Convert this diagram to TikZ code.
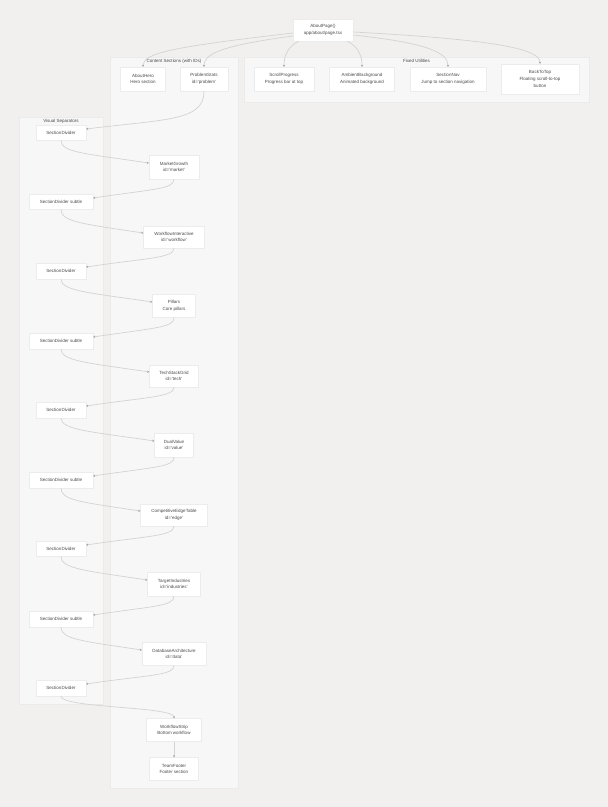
\documentclass[tikz,border=0pt]{standalone}
\usepackage{fontspec}
\setmainfont{Liberation Sans}
\usetikzlibrary{calc,arrows.meta}
\definecolor{bg}{HTML}{F1F0EE}
\definecolor{clfill}{HTML}{F7F7F7}
\definecolor{clline}{HTML}{EBEBEB}
\definecolor{nodeline}{HTML}{ECECEC}
\definecolor{txt}{HTML}{4A4A4A}
\definecolor{edgec}{HTML}{D3D3D3}
\definecolor{arrowc}{HTML}{9A9A9A}
\begin{document}
\begin{tikzpicture}[x=1pt,y=-1pt,
  box/.style 2 args={draw=nodeline, fill=white, line width=0.4pt, minimum width=#1pt, minimum height=#2pt, inner sep=0pt, align=center, text=txt, font=\fontsize{4.5}{6.7}\selectfont},
  cl/.style={draw=clline, fill=clfill, line width=0.5pt},
  cllabel/.style={text=txt, font=\fontsize{4.5}{5.5}\selectfont, inner sep=0pt},
  edge/.style={draw=edgec, line width=0.7pt, -{Stealth[length=2pt,width=2pt,color=arrowc]}}]
\fill[bg] (0,0) rectangle (608,807);
\useasboundingbox (0,0) rectangle (608,807);
% clusters
\draw[cl] (110,57) rectangle (238,788);
\node[cllabel] (lcontent) at (174,61) {Content Sections (with IDs)};
\draw[cl] (244,57) rectangle (589,102);
\node[cllabel] (lfixed) at (416.5,61) {Fixed Utilities};
\draw[cl] (19,117) rectangle (103,704);
\node[cllabel] (lvisual) at (61,121) {Visual Separators};
% nodes
\node[box={60}{22}] (about) at (323,30) {AboutPage()\\app/about/page.tsx};
\node[box={45}{24}] (hero) at (143,79) {AboutHero\\Hero section};
\node[box={48}{24}] (problem) at (204,79) {ProblemStats\\id='problem'};
\node[box={60}{24}] (scroll) at (284,79) {ScrollProgress\\Progress bar at top};
\node[box={65}{24}] (ambient) at (362,79) {AmbientBackground\\Animated background};
\node[box={76}{24}] (nav) at (448,79) {SectionNav\\Jump to section navigation};
\node[box={78}{30}] (back) at (540,79) {BackToTop\\Floating scroll-to-top\\button};
\node[box={50}{15}] (sd1) at (61,133) {SectionDivider};
\node[box={50}{24}] (market) at (174,167) {MarketGrowth\\id='market'};
\node[box={64}{15}] (sds1) at (61,202) {SectionDivider subtle};
\node[box={61}{22}] (wfi) at (174,237) {WorkflowInteractive\\id='workflow'};
\node[box={50}{16}] (sd2) at (61,271) {SectionDivider};
\node[box={43}{23}] (pillars) at (174,306) {Pillars\\Core pillars};
\node[box={64}{16}] (sds2) at (61,341) {SectionDivider subtle};
\node[box={49}{22}] (tech) at (174,376) {TechStackGrid\\id='tech'};
\node[box={50}{16}] (sd3) at (61,410) {SectionDivider};
\node[box={39}{24}] (dual) at (174,445) {DualValue\\id='value'};
\node[box={64}{16}] (sds3) at (61,480) {SectionDivider subtle};
\node[box={67}{22}] (edgetab) at (174,515) {CompetitiveEdgeTable\\id='edge'};
\node[box={50}{15}] (sd4) at (61,549) {SectionDivider};
\node[box={53}{24}] (target) at (174,584) {TargetIndustries\\id='industries'};
\node[box={64}{16}] (sds4) at (61,619) {SectionDivider subtle};
\node[box={64}{23}] (db) at (174,654) {DatabaseArchitecture\\id='data'};
\node[box={50}{16}] (sd5) at (61,688) {SectionDivider};
\node[box={55}{23}] (strip) at (174,730) {WorkflowStrip\\Bottom workflow};
\node[box={49}{23}] (footer) at (174,769) {TeamFooter\\Footer section};
% edges from AboutPage
\draw[edge] ($(about.west)+(0,3)$) .. controls +(-120,14) and +(0,-14) .. (hero.north);
\draw[edge] ($(about.west)+(0,6)$) .. controls +(-75,10) and +(0,-12) .. (problem.north);
\draw[edge] ($(about.south west)+(6,0)$) .. controls +(-12,6) and +(0,-10) .. (scroll.north);
\draw[edge] ($(about.south east)+(-6,0)$) .. controls +(12,6) and +(0,-10) .. (ambient.north);
\draw[edge] ($(about.east)+(0,5)$) .. controls +(75,8) and +(0,-14) .. (nav.north);
\draw[edge] ($(about.east)+(0,2)$) .. controls +(150,8) and +(0,-14) .. (back.north);
% chain
\draw[edge] (problem.south) .. controls +(0,30) and +(80,-10) .. ($(sd1.east)+(0,-4)$);
\draw[edge] (sd1.south) .. controls +(0,12) and +(-60,-9) .. ($(market.west)+(0,-4)$);
\draw[edge] (market.south) .. controls +(0,10) and +(60,-9) .. ($(sds1.east)+(0,-4)$);
\draw[edge] (sds1.south) .. controls +(0,12) and +(-60,-9) .. ($(wfi.west)+(0,-4)$);
\draw[edge] (wfi.south) .. controls +(0,10) and +(60,-9) .. ($(sd2.east)+(0,-4)$);
\draw[edge] (sd2.south) .. controls +(0,12) and +(-60,-9) .. ($(pillars.west)+(0,-4)$);
\draw[edge] (pillars.south) .. controls +(0,10) and +(60,-9) .. ($(sds2.east)+(0,-4)$);
\draw[edge] (sds2.south) .. controls +(0,12) and +(-60,-9) .. ($(tech.west)+(0,-4)$);
\draw[edge] (tech.south) .. controls +(0,10) and +(60,-9) .. ($(sd3.east)+(0,-4)$);
\draw[edge] (sd3.south) .. controls +(0,12) and +(-60,-9) .. ($(dual.west)+(0,-4)$);
\draw[edge] (dual.south) .. controls +(0,10) and +(60,-9) .. ($(sds3.east)+(0,-4)$);
\draw[edge] (sds3.south) .. controls +(0,12) and +(-60,-9) .. ($(edgetab.west)+(0,-4)$);
\draw[edge] (edgetab.south) .. controls +(0,10) and +(60,-9) .. ($(sd4.east)+(0,-4)$);
\draw[edge] (sd4.south) .. controls +(0,12) and +(-60,-9) .. ($(target.west)+(0,-4)$);
\draw[edge] (target.south) .. controls +(0,10) and +(60,-9) .. ($(sds4.east)+(0,-4)$);
\draw[edge] (sds4.south) .. controls +(0,12) and +(-60,-9) .. ($(db.west)+(0,-4)$);
\draw[edge] (db.south) .. controls +(0,10) and +(60,-9) .. ($(sd5.east)+(0,-4)$);
\draw[edge] (sd5.south) .. controls +(0,12) and +(0,-12) .. (strip.north);
\draw[edge] (strip.south) -- (footer.north);
\end{tikzpicture}
\end{document}
